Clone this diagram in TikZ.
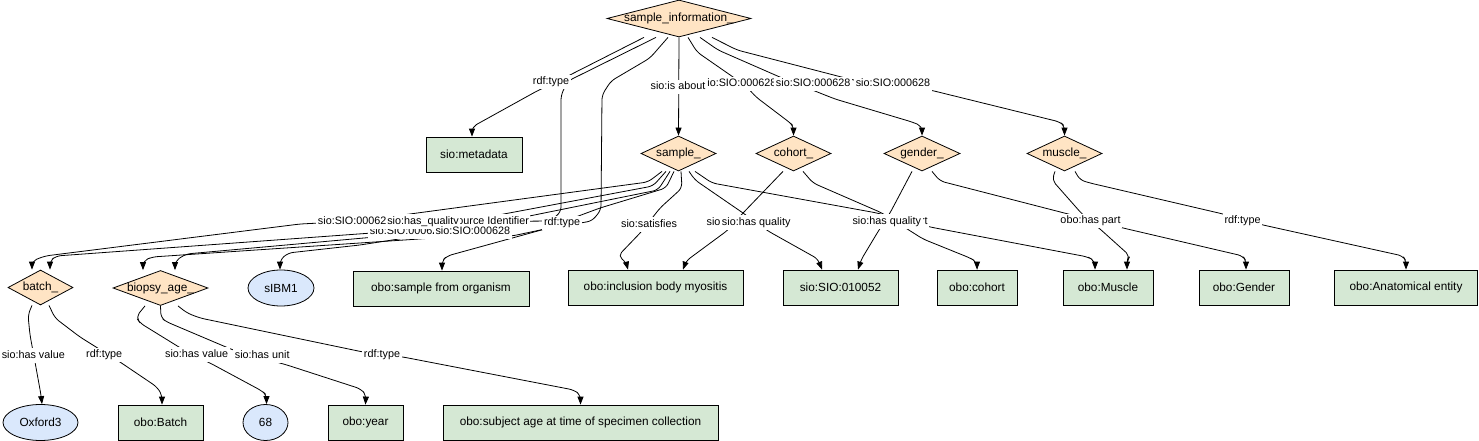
\documentclass[tikz,border=0pt]{standalone}
\usepackage{fontspec}
\setmainfont{Liberation Sans}
\usetikzlibrary{shapes.geometric,arrows.meta}
\definecolor{dfill}{HTML}{FFE4C4}
\definecolor{bfill}{HTML}{D5E8D4}
\definecolor{efill}{HTML}{DAE8FC}
\newcommand{\nfont}{\fontsize{11.8}{13}\selectfont}
\newcommand{\lfont}{\fontsize{10.8}{12}\selectfont}
\begin{document}
\begin{tikzpicture}[x=1pt,y=-1pt,
  dia/.style={diamond, draw, fill=dfill, line width=0.8pt, inner sep=0pt, font=\nfont},
  box/.style={rectangle, draw, fill=bfill, line width=0.8pt, inner sep=0pt, minimum height=35pt, font=\nfont},
  ell/.style={ellipse, draw, fill=efill, line width=0.8pt, inner sep=0pt, minimum height=36pt, font=\nfont},
  conn/.style={draw, line width=0.8pt, rounded corners=5pt, -{Triangle[length=8pt,width=6pt]}},
  lab/.style={fill=white, inner xsep=1.5pt, inner ysep=2pt, text height=8pt, text depth=2.5pt, font=\lfont}]
\useasboundingbox (0,0) rectangle (1479,441);

% ---------- nodes ----------
\node[dia, minimum width=144pt, minimum height=37pt] (SI) at (679,18.5) {\makebox[0pt]{sample\_information\_}};
\node[dia, minimum width=75pt, minimum height=35pt] (sam) at (678.5,153.5) {\makebox[0pt]{sample\_}};
\node[dia, minimum width=75pt, minimum height=35pt] (coh) at (793.5,153.5) {\makebox[0pt]{cohort\_}};
\node[dia, minimum width=76pt, minimum height=35pt] (gen) at (922,153.5) {\makebox[0pt]{gender\_}};
\node[dia, minimum width=75pt, minimum height=35pt] (mus) at (1064.5,153.5) {\makebox[0pt]{muscle\_}};
\node[dia, minimum width=65pt, minimum height=35pt] (bat) at (40.5,287.5) {\makebox[0pt]{batch\_}};
\node[dia, minimum width=95pt, minimum height=35pt] (bio) at (160.5,288) {\makebox[0pt]{biopsy\_age\_}};
\node[ell, minimum width=66pt] (sib) at (281,288) {sIBM1};
\node[box, minimum width=96pt] (meta) at (474,154.5) {sio:metadata};
\node[box, minimum width=176pt] (sfo) at (441,288.5) {obo:sample from organism};
\node[box, minimum width=175pt] (myo) at (655.5,287.5) {obo:inclusion body myositis};
\node[box, minimum width=115pt] (sio) at (840.5,287.5) {sio:SIO:010052};
\node[box, minimum width=80pt] (oco) at (977,287.5) {obo:cohort};
\node[box, minimum width=90pt] (omu) at (1108,287.5) {obo:Muscle};
\node[box, minimum width=90pt] (oge) at (1244,287.5) {obo:Gender};
\node[box, minimum width=143pt] (oae) at (1406,287.5) {obo:Anatomical entity};
\node[ell, minimum width=75pt] (oxf) at (40.5,422.5) {Oxford3};
\node[box, minimum width=85pt] (oba) at (160.5,422.5) {obo:Batch};
\node[ell, minimum width=45pt] (n68) at (265.5,422.5) {68};
\node[box, minimum width=75pt] (yea) at (365.5,422.5) {obo:year};
\node[box, minimum width=275pt] (sub) at (580.5,422.5) {obo:subject age at time of specimen collection};

% ---------- connectors: top ----------
\draw[conn] ([xshift=-35pt]SI.south) -- (566,77) -- (537,91) -- (481,122) -- (472,127) -- ([xshift=-2pt]meta.north);
\draw[conn] (SI.south) -- (sam.north);
\draw[conn] ([xshift=9pt]SI.south) -- (697,52) -- (746,86) -- (756,97) -- (789,122) -- (793.5,126) -- (coh.north);
\draw[conn] ([xshift=21pt]SI.south) -- (718,50) -- (782,78) -- (835,99) -- (912,122) -- (922,126) -- (gen.north);
\draw[conn] ([xshift=33pt]SI.south) -- (737,50) -- (853,80) -- (930,90) -- (1060,122) -- (1064.5,126) -- (mus.north);

% ---------- connectors: left group ----------
\draw[conn] ([xshift=-23pt]SI.south) -- (568,81) -- (561,95) -- (561,212) -- (550,221) -- (320,223) -- (300,224) -- (45,256) -- (32,261) -- ([xshift=-8.5pt]bat.north);
\draw[conn] ([xshift=-11pt]SI.south) -- (650,58) -- (611,81) -- (602,95) -- (601,210) -- (592,221) -- (545,229) -- (512,236) -- (434,238) -- (152,257) -- (143,261) -- ([xshift=-17.5pt]bio.north);
\draw[conn] ([xshift=-16.5pt]sam.south) -- (648,182) -- (395,216) -- (372,233) -- (56,256) -- (50,261) -- ([xshift=9.5pt]bat.north);
\draw[conn] ([xshift=-12.5pt]sam.south) -- (653,186) -- (440,226) -- (375,237) -- (186,254) -- (175,261) -- ([xshift=14.5pt]bio.north);
\draw[conn] ([xshift=-8.5pt]sam.south) -- (658,190) -- (470,228) -- (360,245) -- (288,253) -- (280,260) -- ([xshift=-1pt]sib.north);
\draw[conn] ([xshift=-4.5pt]sam.south) -- (666,188) -- (600,208) -- (565,221) -- (545,229) -- (447,256) -- (442,261) -- ([xshift=1pt]sfo.north);

% ---------- connectors: right group ----------
\draw[conn] ([xshift=2.5pt]sam.south) -- (682,188) -- (660,208) -- (642,231) -- (618,256) -- (626,262) -- ([xshift=-27.5pt]myo.north);
\draw[conn] ([xshift=-10.5pt]coh.south) -- (743,213) -- (728,230) -- (686,261) -- ([xshift=27.5pt]myo.north);
\draw[conn] ([xshift=10.5pt]sam.south) -- (695,180) -- (743,213) -- (768,231) -- (818,259) -- ([xshift=-18.5pt]sio.north);
\draw[conn] ([xshift=16.5pt]sam.south) -- (712,183) -- (877,213) -- (930,227) -- (1088,257) -- (1095,261) -- ([xshift=-13pt]omu.north);
\draw[conn] ([xshift=9.5pt]coh.south) -- (813,183) -- (882,213) -- (923,239) -- (970,258) -- (977,262) -- (oco.north);
\draw[conn] ([xshift=-10pt]gen.south) -- (890,213) -- (879,230) -- (861,260) -- ([xshift=17.5pt]sio.north);
\draw[conn] ([xshift=10pt]gen.south) -- (940,181) -- (1072,215) -- (1123,228) -- (1243,256) -- (1246,261) -- ([xshift=2pt]oge.north);
\draw[conn] ([xshift=-9.5pt]mus.south) -- (1052,180) -- (1082,214) -- (1100,229) -- (1130,256) -- (1127,261) -- ([xshift=19pt]omu.north);
\draw[conn] ([xshift=10.5pt]mus.south) -- (1080,180) -- (1090,183) -- (1223,214) -- (1263,225) -- (1403,256) -- (1406,261) -- (oae.north);

% ---------- connectors: bottom ----------
\draw[conn] ([xshift=-8.5pt]bat.south) -- (28,315) -- (30,335) -- (35,362) -- (41,395) -- ([xshift=1.5pt]oxf.north);
\draw[conn] ([xshift=8.5pt]bat.south) -- (55,318) -- (80,337) -- (120,362) -- (157,387) -- (162,395) -- ([xshift=1.5pt]oba.north);
\draw[conn] ([xshift=-15.5pt]bio.south) -- (136,317) -- (140,323) -- (187,352) -- (210,363) -- (262,391) -- (266.5,395) -- ([xshift=1pt]n68.north);
\draw[conn] (bio.south) -- (161,318) -- (167,322) -- (233,350) -- (287,365) -- (361,389) -- (366,395) -- (yea.north);
\draw[conn] ([xshift=17.5pt]bio.south) -- (187,313) -- (200,318) -- (363,352) -- (403,357) -- (574,390) -- (580.5,395) -- (sub.north);

% ---------- edge labels ----------
\node[lab] (t1) at (551,82) {rdf:type};
\node[lab] (t2) at (739.2,84) {sio:SIO:000628};
\node[lab] (t3) at (813.2,84) {sio:SIO:000628};
\node[lab] (t4) at (678,87) {sio:is about};
\node[lab] (t5) at (893,84) {sio:SIO:000628};

\node[lab] (c1) at (407.2,231.5) {sio:SIO:000628};
\node[lab] (c2) at (471.9,221.5) {sio:has source Identifier};
\node[lab] (c3) at (355.2,221.5) {sio:SIO:000628};
\node[lab] (c4) at (423,221.5) {sio:has\_quality};
\node[lab] (c5) at (472.8,231.5) {sio:SIO:000628};
\node[lab] (c6) at (562,223) {rdf:type};

\node[lab] (r1) at (649,224.3) {sio:satisfies};
\node[lab] (r2) at (740.9,222.7) {sio:has quality};
\node[lab] (r3) at (756.2,222.7) {sio:has quality};
\node[lab] (r4) at (897.5,221.7) {obo:has part};
\node[lab] (r5) at (886.8,221.7) {sio:has quality};
\node[lab] (r6) at (1090.5,221) {obo:has part};
\node[lab] (r7) at (1242.5,220.3) {rdf:type};

\node[lab] (b1) at (33.3,355.3) {sio:has value};
\node[lab] (b2) at (104.2,355) {rdf:type};
\node[lab] (b3) at (196.7,354.3) {sio:has value};
\node[lab] (b4) at (262.2,356) {sio:has unit};
\node[lab] (b5) at (382,355) {rdf:type};
\end{tikzpicture}
\end{document}
